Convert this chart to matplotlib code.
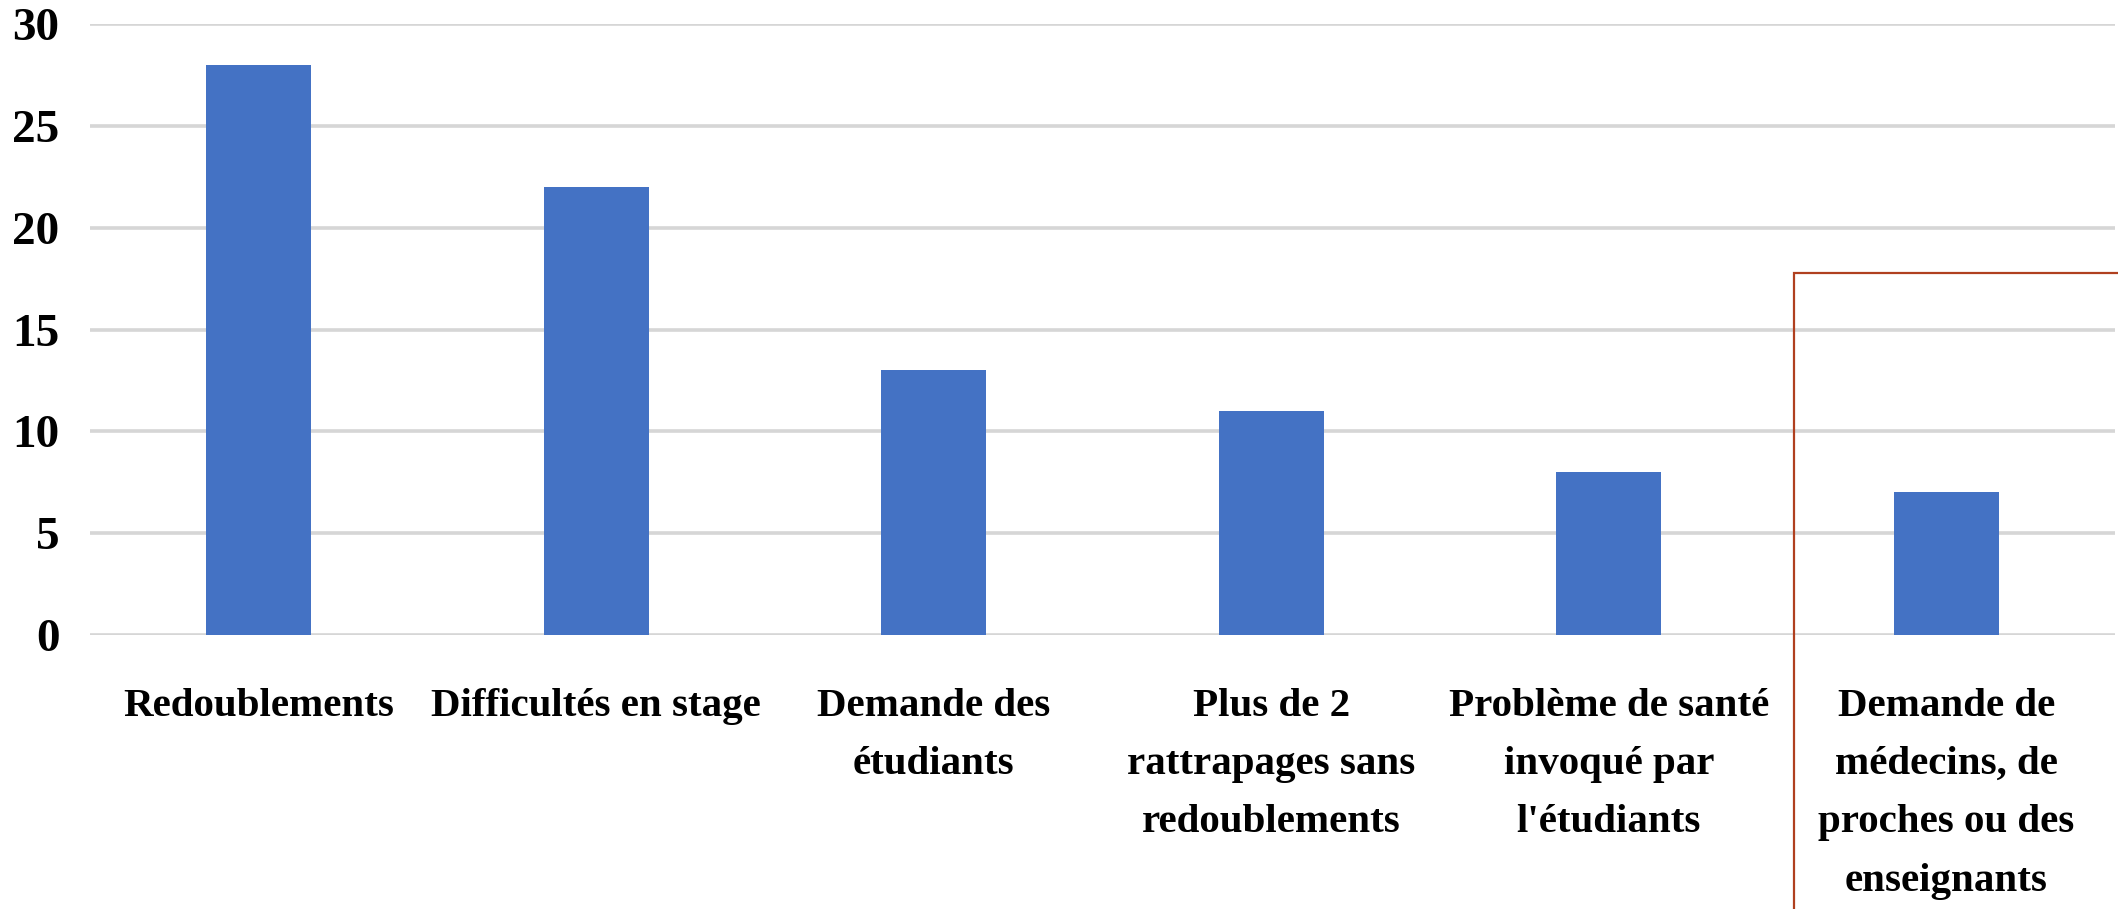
import matplotlib.pyplot as plt
from matplotlib.patches import Rectangle

categories = ["Redoublements", "Difficultés en stage", "Demande des\nétudiants",
              "Plus de 2\nrattrapages sans\nredoublements",
              "Problème de santé\ninvoqué par\nl'étudiants",
              "Demande de\nmédecins, de\nproches ou des\nenseignants"]
values = [28, 22, 13, 11, 8, 7]
y_ticks = [0, 5, 10, 15, 20, 25, 30]

plt.rcParams['font.family'] = ['Liberation Serif', 'DejaVu Serif']
plt.rcParams['font.weight'] = 'bold'

fig = plt.figure(figsize=(21.18, 9.09), dpi=100)
ax = fig.add_axes([90 / 2118, 274 / 909, 2025 / 2118, 611 / 909])

x = range(len(categories))
ax.bar(x, values, width=0.31, color="#4472C4", zorder=3)

ax.set_xlim(-0.5, len(categories) - 0.5)
ax.set_ylim(0, 30)
ax.set_yticks(y_ticks)
ax.set_xticks(list(x))
ax.set_xticklabels(categories, fontsize=29.5, fontweight='bold', linespacing=1.76)
ax.tick_params(axis='x', length=0, pad=38)
ax.tick_params(axis='y', length=0, pad=22, labelsize=34)
for lbl in ax.get_yticklabels():
    lbl.set_fontweight('bold')

ax.grid(axis='y', color="#d6d6d6", linewidth=2.6, zorder=0)
for s in ax.spines.values():
    s.set_visible(False)

# red box around the last category
fig.patches.append(Rectangle((1794 / 2118, -0.1), 0.2, 0.1 + (909 - 273) / 909,
                             transform=fig.transFigure, fill=False,
                             edgecolor="#b0401f", linewidth=1.6))

fig.savefig("out.png", dpi=100)
